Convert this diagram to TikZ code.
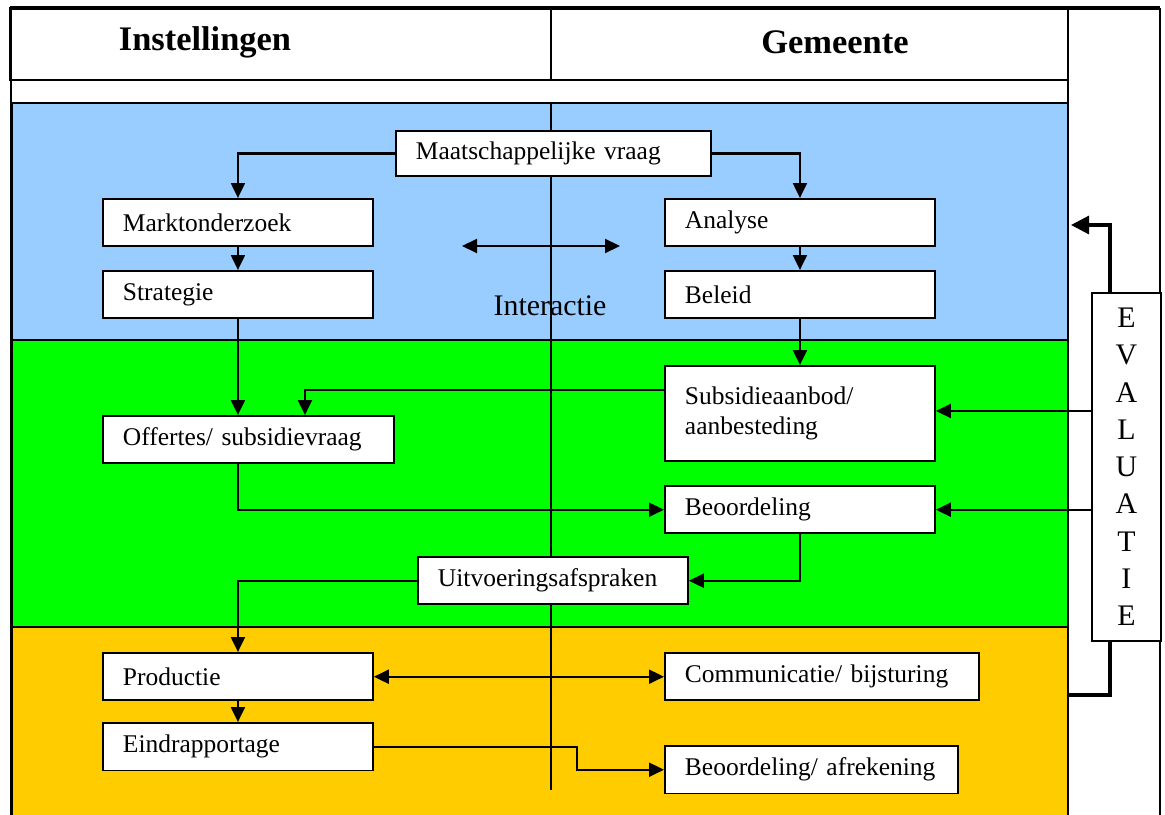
\documentclass[tikz,border=0pt]{standalone}
\usepackage{fontspec}
\setmainfont{Liberation Serif}
\usetikzlibrary{arrows.meta, calc}
\definecolor{bandblue}{RGB}{153,204,255}
\definecolor{bandgreen}{RGB}{0,255,0}
\definecolor{bandorange}{RGB}{255,204,0}
\tikzset{
  box/.style={draw, fill=white, line width=1.1pt, anchor=north west, align=left,
    inner xsep=0.4cm, text width=#1, minimum height=0.95cm,
    font=\fontsize{14.5}{17}\selectfont},
  arr/.style={line width=1.2pt, -{Triangle[length=0.3cm,width=0.28cm]}},
  arrs/.style={line width=1.2pt, {Triangle[length=0.3cm,width=0.28cm]}-{Triangle[length=0.3cm,width=0.28cm]}},
  evalarr/.style={line width=1.8pt, -{Triangle[length=0.36cm,width=0.36cm]}},
  head/.style={font=\fontsize{19.6}{22}\selectfont\bfseries}
}
\begin{document}
\begin{tikzpicture}[x=0.02cm, y=-0.02cm]
\useasboundingbox (0,0) rectangle (1165,814);
\fill[white] (0,0) rectangle (1165,814);

\filldraw[fill=bandblue, line width=1pt] (12,103) rectangle (1068,340);
\filldraw[fill=bandgreen, line width=1pt] (12,340) rectangle (1068,627);
\filldraw[fill=bandorange, line width=1pt] (12,627) rectangle (1068,830);

\draw[line width=1.2pt] (10,8) rectangle (1068,80);
\draw[line width=1pt] (551,8) -- (551,80);
\draw[line width=2pt] (10,8) -- (1160,8);
\draw[line width=1.6pt] (11,8) -- (11,830);
\draw[line width=1pt] (1068,80) -- (1068,830);
\draw[line width=0.8pt] (1160,8) -- (1160,830);
\draw[line width=1pt] (551,103) -- (551,790);

\path (205,42) node[head] (inst) {Instellingen};
\path (835,42) node[head] (gem) {Gemeente};

\node[box=5.5cm, minimum height=0.9cm] (maat) at (395,130) {Maatschappelijke vraag};
\node[box=4.6cm] (markt) at (102,198) {Marktonderzoek};
\node[box=4.6cm] (strat) at (102,270) {Strategie};
\node[box=4.6cm] (analyse) at (664,198) {Analyse};
\node[box=4.6cm] (beleid) at (664,270) {Beleid};
\node[box=4.6cm, minimum height=1.9cm] (subs) at (664,365) {Subsidieaanbod/\\aanbesteding};
\node[box=5.02cm] (offer) at (102,415) {Offertes/ subsidievraag};
\node[box=4.6cm] (beoord) at (664,485) {Beoordeling};
\node[box=4.6cm] (uitv) at (417,556) {Uitvoeringsafspraken};
\node[box=4.6cm] (prod) at (102,652) {Productie};
\node[box=4.6cm] (eind) at (102,722) {Eindrapportage};
\node[box=5.48cm] (comm) at (664,652) {Communicatie/ bijsturing};
\node[box=5.06cm] (afrek) at (664,745) {Beoordeling/ afrekening};

\path (550,306) node[font=\fontsize{17}{20}\selectfont] (inter) {Interactie};
\coordinate (iaL) at (462,246);
\coordinate (iaR) at (620,246);
\draw[arrs] (iaL) -- (iaR);

\draw[arr] (maat.west) -| (markt.north);
\draw[arr] (maat.east) -| (analyse.north);
\draw[arr] (markt.south) -- (strat.north);
\draw[arr] (analyse.south) -- (beleid.north);
\draw[arr] (strat.south) -- (strat.south |- offer.north);
\draw[arr] (beleid.south) -- (subs.north);
\draw[arr] ([yshift=-0.5cm]subs.north west) -| ([xshift=4.06cm]offer.north west);
\draw[arr] (strat.south |- offer.south) |- (beoord.west);
\draw[arr] (beoord.south) |- (uitv.east);
\draw[arr] (uitv.west) -| (prod.north);
\draw[arr] (prod.south) -- (eind.north);
\draw[arrs] (prod.east) -- (comm.west);
\draw[arr] (eind.east) -- ++(203,0) |- (afrek.west);

\coordinate (orangeR) at (1068,695);
\coordinate (blueR) at (1071,225);
\draw[evalarr] (orangeR) -- (1110,695) -- (1110,225) -- (blueR);

\node[draw, fill=white, line width=1pt, anchor=north west, minimum width=1.38cm,
  minimum height=6.96cm, align=center, font=\fontsize{17}{21.2}\selectfont]
  (eval) at (1091,292) {E\\V\\A\\L\\U\\A\\T\\I\\E};
\draw[arr] ([yshift=0.05cm]eval.west |- subs.east) -- ([yshift=0.05cm]subs.east);
\draw[arr] (eval.west |- beoord.east) -- (beoord.east);
\end{tikzpicture}
\end{document}
